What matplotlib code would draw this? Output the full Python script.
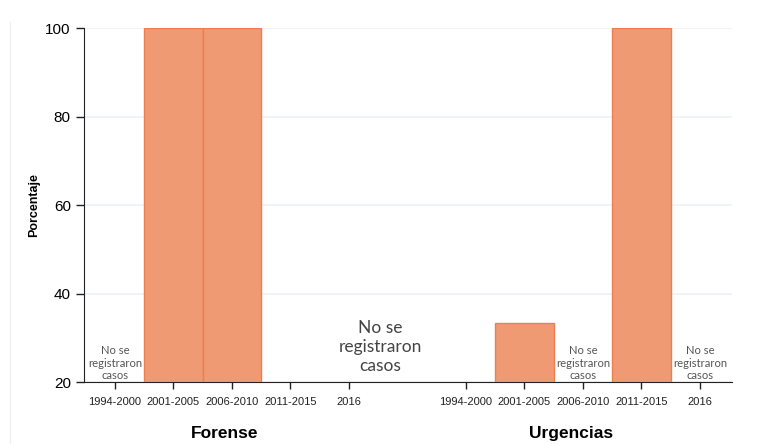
import matplotlib.pyplot as plt
import numpy as np

periodos = ['1994-2000', '2001-2005', '2006-2010', '2011-2015', '2016']
grupos = ['Forense', 'Urgencias']
forense = [None, 100, 100, None, None]
urgencias = [None, 33.3, None, 100, None]
# periods with a "no cases" note (small text)
sin_casos_forense = ['1994-2000']
sin_casos_urgencias = ['2006-2010', '2016']
yticks = [20, 40, 60, 80, 100]

fill = '#EF9A72'
edge = '#EE7E50'
plt.rcParams['font.family'] = ['Liberation Sans', 'DejaVu Sans']

fig = plt.figure(figsize=(7.58, 4.44), dpi=100)
ax = fig.add_axes([0.1108, 0.1396, 0.855, 0.7973])

x_f = np.arange(len(periodos))
x_u = x_f + len(periodos) + 1

for xs, vals in [(x_f, forense), (x_u, urgencias)]:
    for x, v in zip(xs, vals):
        if v is not None:
            ax.bar(x, v - 20, bottom=20, width=1.0, color=fill,
                   edgecolor=edge, linewidth=1.0, zorder=3)

nota = 'No se\nregistraron\ncasos'
for xs, lista in [(x_f, sin_casos_forense), (x_u, sin_casos_urgencias)]:
    for x, p in zip(xs, periodos):
        if p in lista:
            ax.text(x, 20.2, nota, ha='center', va='bottom', fontsize=8.1,
                    family='Lato', color='#555555', linespacing=1.15, zorder=4)

# big note for Forense 2011-2016
ax.text(4.53, 27.9, nota, ha='center', va='center', fontsize=12.5,
        family='Lato', color='#444444', linespacing=1.2)

ax.set_xlim(-0.53, 10.55)
ax.set_ylim(20, 100)
ax.set_yticks(yticks)
ax.set_xticks(list(x_f) + list(x_u))
ax.set_xticklabels(periodos + periodos, fontsize=8, color='#222222')
ax.tick_params(axis='y', labelsize=11, length=6, width=1, color='#222222')
ax.tick_params(axis='x', length=5, width=1, pad=6, color='#222222')
ax.grid(axis='y', color='#edf2f6', linewidth=1.2, zorder=0)
ax.set_axisbelow(True)
for s in ['top', 'right']:
    ax.spines[s].set_visible(False)
ax.spines['left'].set_color('#222222')
ax.spines['bottom'].set_color('#222222')
ax.set_ylabel('Porcentaje', fontsize=9, fontweight='bold', labelpad=4)

ax.text(1.88, -0.145, grupos[0], transform=ax.get_xaxis_transform(),
        ha='center', va='center', fontsize=12.5, fontweight='bold')
ax.text(7.8, -0.145, grupos[1], transform=ax.get_xaxis_transform(),
        ha='center', va='center', fontsize=12.5, fontweight='bold')

fig.add_artist(plt.Line2D([0.0135, 0.0135], [0.0, 0.95], color='#eeeeee', lw=0.8))

fig.savefig('out.png', dpi=100)
